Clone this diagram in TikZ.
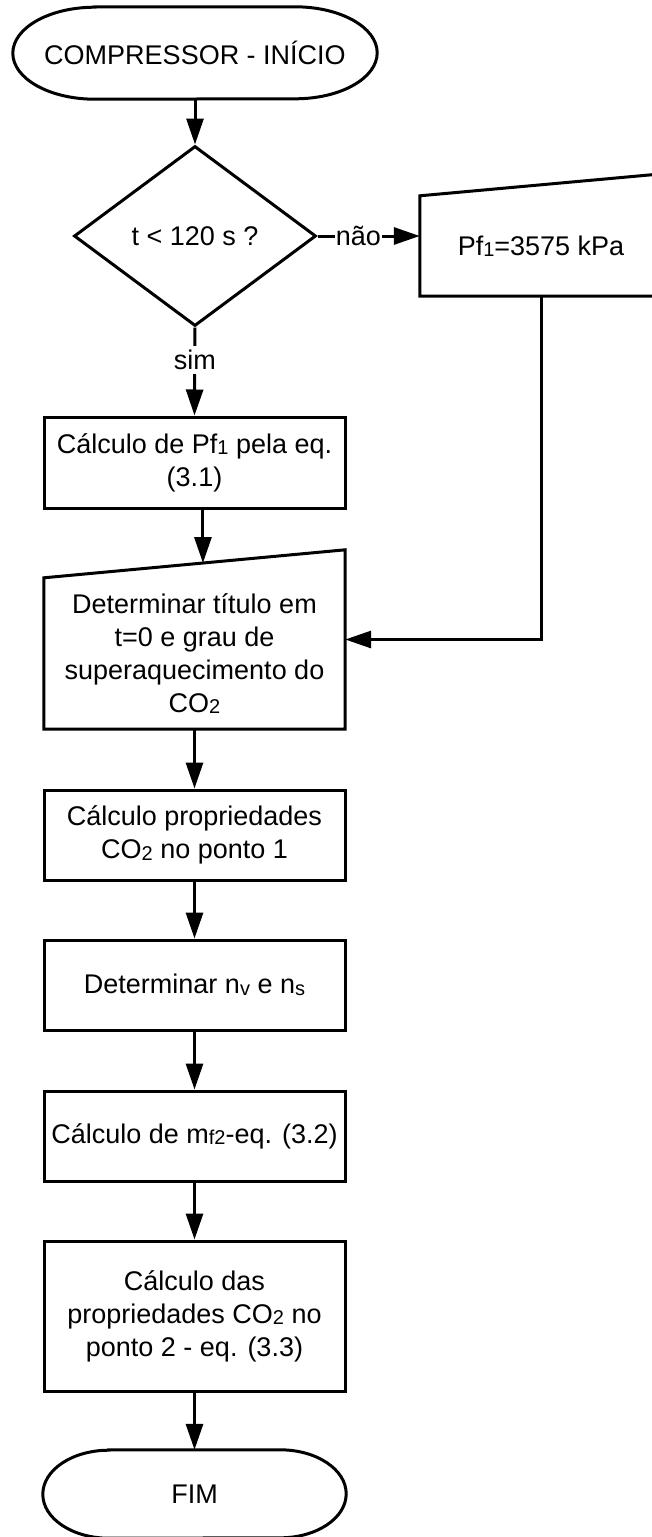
\documentclass[tikz,border=0pt]{standalone}
\usepackage{fontspec}
\setmainfont{Liberation Sans}
\usetikzlibrary{shapes.geometric,arrows.meta,calc}
% small lowered index (Pf1, CO2, nv, mf2 ...)
\newcommand\lowsub[1]{\raisebox{-1.5pt}{\fontsize{20pt}{20pt}\selectfont #1}}
\begin{document}
\begin{tikzpicture}[x=1pt,y=1pt,
  every node/.style={font=\fontsize{27pt}{33pt}\selectfont, inner sep=0pt, align=center},
  proc/.style={draw, line width=3pt, minimum width=301pt},
  shapeline/.style={line width=3pt, line join=miter},
  flow/.style={line width=3pt, -{Triangle[length=26pt,width=17pt]}},
  lbl/.style={fill=white, inner xsep=1pt, inner ysep=4pt}]
\useasboundingbox (0,0) rectangle (652,-1537);
\clip (0,0) rectangle (652,-1537);

% start terminal
\node (start) [minimum width=364pt, minimum height=92pt] at (195,-53) {COMPRESSOR - INÍCIO};
\draw[shapeline] ([xshift=82pt]start.north west) -- ([xshift=-82pt]start.north east)
  arc[start angle=90, end angle=-90, x radius=82pt, y radius=46pt]
  -- ([xshift=82pt]start.south west)
  arc[start angle=270, end angle=90, x radius=82pt, y radius=46pt] -- cycle;

% decision
\node (dec) [diamond, draw, line width=3pt, minimum width=242pt, minimum height=180pt] at (195,-236) {t < 120 s ?};

% fixed pressure (manual input)
\node (pf) [minimum width=242pt, minimum height=100pt] at (541,-246) {Pf\lowsub{1}=3575 kPa};
\draw[shapeline] (pf.south west) -- (pf.north west) -- ([yshift=22pt]pf.north east) -- (pf.south east) -- cycle;

% process steps
\node (calc1) [proc, minimum height=91pt] at (194.5,-462.5) {Cálculo de Pf\lowsub{1} pela eq.\\(3.1)};

\node (det) [minimum width=301pt, minimum height=151pt] at (194.5,-653.5) {Determinar título em\\t=0 e grau de\\superaquecimento do\\CO\lowsub{2}};
\draw[shapeline] (det.south west) -- (det.north west) -- ([yshift=28pt]det.north east) -- (det.south east) -- cycle;

\node (props1) [proc, minimum height=90pt] at (194.5,-835) {Cálculo propriedades\\CO\lowsub{2} no ponto 1};
\node (nvns) [proc, minimum height=90pt] at (194.5,-985) {Determinar n\lowsub{v} e n\lowsub{s}};
\node (mf) [proc, minimum height=90pt] at (194.5,-1136) {Cálculo de m\lowsub{f2}-eq. (3.2)};
\node (props2) [proc, minimum height=150pt] at (194.5,-1316) {Cálculo das\\propriedades CO\lowsub{2} no\\ponto 2 - eq. (3.3)};

% end terminal
\node (fim) [minimum width=303pt, minimum height=88pt] at (194.5,-1494) {FIM};
\draw[shapeline] ([xshift=66pt]fim.north west) -- ([xshift=-66pt]fim.north east)
  arc[start angle=90, end angle=-90, x radius=66pt, y radius=44pt]
  -- ([xshift=66pt]fim.south west)
  arc[start angle=270, end angle=90, x radius=66pt, y radius=44pt] -- cycle;

% connectors
\draw[flow] (start.south) -- (dec.north);
\draw[flow] (dec.south) -- node[lbl, pos=0.37] {sim} (calc1.north);
\draw[flow] (dec.east) -- node[lbl, inner ysep=1pt, pos=0.4] {não} (dec.east -| pf.west);
\coordinate (dettop) at ($(det.north west)!0.528!([yshift=28pt]det.north east)$);
\draw[flow] (calc1.south -| dettop) -- (dettop);
\draw[flow] (pf.south) |- ([yshift=14pt]det.east);
\draw[flow] (det.south) -- (props1.north);
\draw[flow] (props1.south) -- (nvns.north);
\draw[flow] (nvns.south) -- (mf.north);
\draw[flow] (mf.south) -- (props2.north);
\draw[flow] (props2.south) -- (fim.north);
\end{tikzpicture}
\end{document}
